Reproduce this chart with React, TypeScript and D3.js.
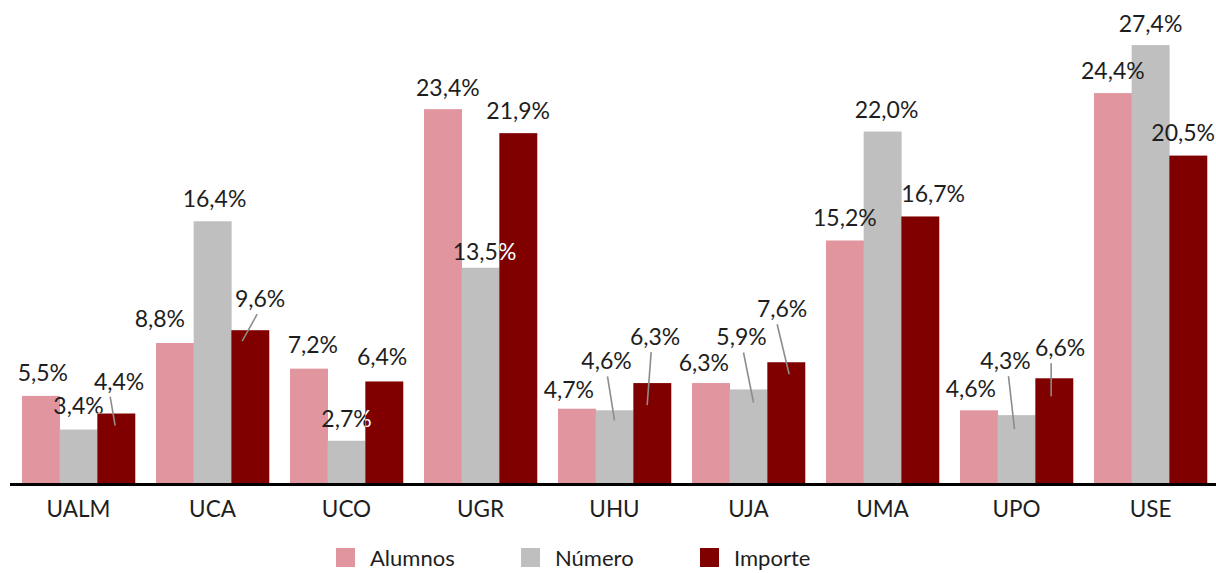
import React from "react";
import * as d3 from "d3";

const categories = ["UALM", "UCA", "UCO", "UGR", "UHU", "UJA", "UMA", "UPO", "USE"];
const seriesNames = ["Alumnos", "Número", "Importe"];
const alumnos = [5.5, 8.8, 7.2, 23.4, 4.7, 6.3, 15.2, 4.6, 24.4];
const numero = [3.4, 16.4, 2.7, 13.5, 4.6, 5.9, 22.0, 4.3, 27.4];
const importe = [4.4, 9.6, 6.4, 21.9, 6.3, 7.6, 16.7, 6.6, 20.5];
const colors = ["#e1959f", "#bfbfbf", "#800000"];

// label nudges (dx, dy) from the default spot above each bar, by category then series
const labelNudge = [
  [[2, -1], [0, -2], [3, -10]],
  [[-15, -2], [2, 0], [10, -9]],
  [[4, -2], [0, 0], [-2, -2]],
  [[5, 1], [4, 6], [0, 0]],
  [[-8, 3], [-8, -27], [3, -24]],
  [[-7, 2], [-7, -30], [-4, -31]],
  [[0, 0], [4, 0], [13, 0]],
  [[-8, 1], [-11, -32], [6, -8]],
  [[0, 0], [0, 1], [-5, -1]],
];
// leader lines: [category, series, start dx from label centre, end dx from bar centre, end dy below bar top]
const leaders = [
  [0, 2, -9, -1, 12],
  [1, 2, -3, -8, 11],
  [4, 1, 1, 0, 10],
  [4, 2, -4, -5, 22],
  [5, 1, 2, 5, 13],
  [5, 2, -5, 3, 12],
  [7, 1, 3, -2, 14],
  [7, 2, -9, -3, 18],
];

const W = 1216;
const H = 573;
const font = "Lato, 'Open Sans', sans-serif";
const textColor = "#1e1e1e";

const fmt = (v: number) => v.toFixed(1).replace(".", ",") + "%";

export default function App() {
  const values = [alumnos, numero, importe];
  const x = d3.scaleBand().domain(categories).range([11.5, 1217.5]).paddingInner(0.157).paddingOuter(0.0785);
  const xs = d3.scaleBand().domain(seriesNames).range([0, x.bandwidth()]);
  const y = d3.scaleLinear().domain([0, 30]).range([484, 484 - 30 * 16.02]);

  const bars: any[] = [];
  categories.forEach((c, ci) => {
    seriesNames.forEach((s, si) => {
      const v = values[si][ci];
      const bx = (x(c) as number) + (xs(s) as number);
      const cx = bx + xs.bandwidth() / 2;
      const top = y(v);
      const [dx, dy] = labelNudge[ci][si];
      bars.push({ c, ci, s, si, v, bx, cx, top, lx: cx + dx, ly: top - 14 + dy });
    });
  });
  const find = (ci: number, si: number) => bars.find((b) => b.ci === ci && b.si === si);

  const legendX = [336, 521, 700];

  return (
    <svg width={W} height={H} style={{ position: "absolute", left: 0, top: 0, background: "#fff" }}>
      <defs>
        <clipPath id="darkBars">
          {bars.filter((b) => b.si === 2).map((b) => (
            <rect key={b.c} x={b.bx} y={b.top} width={xs.bandwidth()} height={y(0) - b.top} />
          ))}
        </clipPath>
      </defs>
      {bars.map((b) => (
        <rect key={b.c + b.s} x={b.bx} y={b.top} width={xs.bandwidth() + 0.3} height={y(0) - b.top} fill={colors[b.si]} />
      ))}
      <line x1={10} x2={1216} y1={y(0) + 0.5} y2={y(0) + 0.5} stroke="#000" strokeWidth={3} />
      {leaders.map(([ci, si, sx, ex, ey]) => {
        const b = find(ci, si);
        return (
          <line key={"l" + ci + si} x1={b.lx + sx} y1={b.ly + 7} x2={b.cx + ex} y2={b.top + ey} stroke="#8c8c8c" strokeWidth={1.6} />
        );
      })}
      <g fontFamily={font} fontSize={23} textAnchor="middle">
        {bars.map((b) => (
          <text key={"t" + b.c + b.s} x={b.lx} y={b.ly} fill={textColor}>{fmt(b.v)}</text>
        ))}
      </g>
      <g fontFamily={font} fontSize={23} textAnchor="middle" clipPath="url(#darkBars)">
        {bars.map((b) => (
          <text key={"w" + b.c + b.s} x={b.lx} y={b.ly} fill="#fff">{fmt(b.v)}</text>
        ))}
      </g>
      <g fontFamily={font} fontSize={22.5} textAnchor="middle" fill={textColor}>
        {categories.map((c) => (
          <text key={c} x={(x(c) as number) + x.bandwidth() / 2} y={517}>{c}</text>
        ))}
      </g>
      <g fontFamily={font} fontSize={22} fill={textColor}>
        {seriesNames.map((s, i) => (
          <g key={s} transform={`translate(${legendX[i]},548)`}>
            <rect width={19} height={19} fill={colors[i]} />
            <text x={34} y={18}>{s}</text>
          </g>
        ))}
      </g>
    </svg>
  );
}
